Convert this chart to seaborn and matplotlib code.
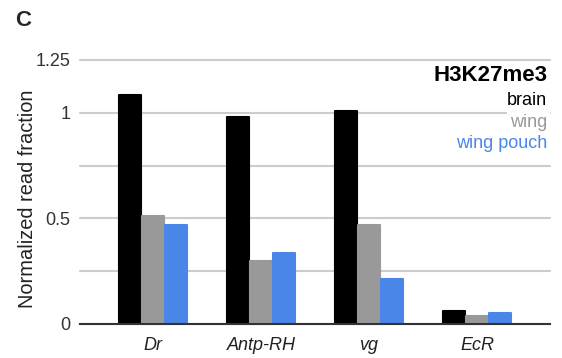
import matplotlib
matplotlib.use("Agg")
import matplotlib.pyplot as plt
import seaborn as sns
import pandas as pd

genes = ["Dr", "Antp-RH", "vg", "EcR"]
tissues = ["brain", "wing", "wing pouch"]
brain = [1.083, 0.98, 1.009, 0.063]
wing = [0.513, 0.296, 0.467, 0.037]
wing_pouch = [0.467, 0.336, 0.214, 0.051]
colors = ["#000000", "#999999", "#4a86e8"]
yticks = [0, 0.25, 0.5, 0.75, 1.0, 1.25]
yticklabels = ["0", "", "0.5", "", "1", "1.25"]

rows = []
for t, vals in zip(tissues, [brain, wing, wing_pouch]):
    for g, v in zip(genes, vals):
        rows.append({"gene": g, "tissue": t, "value": v})
df = pd.DataFrame(rows)

sns.set_style("white")
plt.rcParams["font.family"] = ["Liberation Sans", "DejaVu Sans"]

fig = plt.figure(figsize=(5.62, 3.58), dpi=100)
ax = fig.add_axes([80/562, 1-324/358, 470/562, 264/358])

sns.barplot(data=df, x="gene", y="value", hue="tissue", hue_order=tissues,
            palette=colors, width=0.64, gap=0.08, legend=False, ax=ax,
            saturation=1, linewidth=0)
for p in ax.patches:
    p.set_edgecolor(p.get_facecolor())
    p.set_linewidth(1.5)
    p.set_joinstyle("round")

ax.set_ylim(0, 1.25)
ax.set_xlim(-0.676, 3.676)
ax.set_yticks(yticks)
ax.set_yticklabels(yticklabels, fontsize=13, color="#333333")
ax.set_xticklabels(genes, fontsize=13, style="italic", color="#222222")
ax.tick_params(axis="y", length=0, pad=7)
ax.tick_params(axis="x", length=0, pad=9)
ax.set_xlabel("")
ax.set_ylabel("Normalized read fraction", fontsize=14.4, color="#222222")
ax.yaxis.set_label_coords(-0.092, 0.473)
ax.yaxis.grid(True, color="#cccccc", linewidth=1.5, clip_on=False)
ax.set_axisbelow(True)
for s in ["left", "right", "top"]:
    ax.spines[s].set_visible(False)
ax.spines["bottom"].set_color("#333333")
ax.spines["bottom"].set_linewidth(1.5)

# legend-like labels
tr = ax.get_yaxis_transform()
ax.text(0.994, 1.175, "H3K27me3", transform=tr,
        ha="right", va="center", fontsize=16, fontweight="bold", color="black")
for label, c, y in zip(tissues, colors, [1.06, 0.952, 0.855]):
    ax.text(0.994, y, label, transform=tr, ha="right", va="center", fontsize=13, color=c,
            bbox=dict(facecolor="white", edgecolor="none", pad=2.0))

fig.text(15/562, 1-21/358, "C", fontsize=16, fontweight="bold", ha="left", va="center")

fig.savefig("out.png", dpi=100)
